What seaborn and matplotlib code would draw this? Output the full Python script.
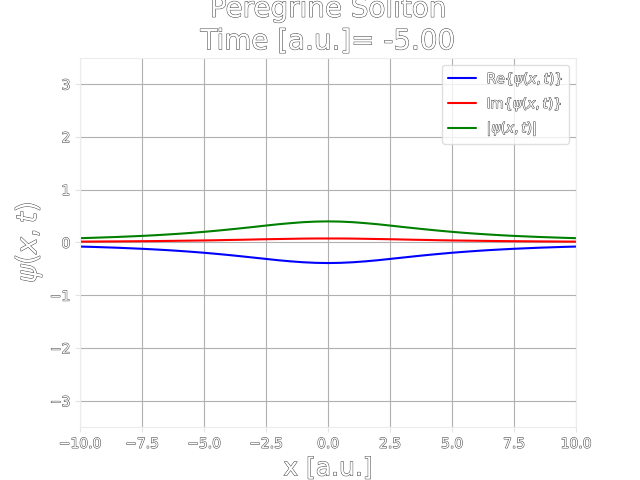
import numpy as np
import pandas as pd
import matplotlib
matplotlib.use("Agg")
import matplotlib.pyplot as plt
import matplotlib.patheffects as pe
import seaborn as sns

x_vals = [-10.0, -9.5, -9.0, -8.5, -8.0, -7.5, -7.0, -6.5, -6.0, -5.5, -5.0,
          -4.5, -4.0, -3.5, -3.0, -2.5, -2.0, -1.5, -1.0, -0.5, 0.0,
          0.5, 1.0, 1.5, 2.0, 2.5, 3.0, 3.5, 4.0, 4.5, 5.0,
          5.5, 6.0, 6.5, 7.0, 7.5, 8.0, 8.5, 9.0, 9.5, 10.0]
re_vals = [-0.079, -0.085, -0.093, -0.101, -0.111, -0.121, -0.133, -0.146, -0.161, -0.178, -0.196,
           -0.217, -0.239, -0.263, -0.288, -0.313, -0.338, -0.359, -0.376, -0.387, -0.391,
           -0.387, -0.376, -0.359, -0.338, -0.313, -0.288, -0.263, -0.239, -0.217, -0.196,
           -0.178, -0.161, -0.146, -0.133, -0.121, -0.111, -0.101, -0.093, -0.085, -0.079]
im_vals = [0.015, 0.016, 0.018, 0.019, 0.021, 0.023, 0.025, 0.028, 0.031, 0.034, 0.037,
           0.041, 0.046, 0.050, 0.055, 0.060, 0.064, 0.068, 0.072, 0.074, 0.074,
           0.074, 0.072, 0.068, 0.064, 0.060, 0.055, 0.050, 0.046, 0.041, 0.037,
           0.034, 0.031, 0.028, 0.025, 0.023, 0.021, 0.019, 0.018, 0.016, 0.015]
abs_vals = [0.080, 0.087, 0.095, 0.103, 0.113, 0.123, 0.135, 0.149, 0.164, 0.181, 0.200,
            0.221, 0.244, 0.268, 0.293, 0.319, 0.344, 0.365, 0.383, 0.394, 0.398,
            0.394, 0.383, 0.365, 0.344, 0.319, 0.293, 0.268, 0.244, 0.221, 0.200,
            0.181, 0.164, 0.149, 0.135, 0.123, 0.113, 0.103, 0.095, 0.087, 0.080]
series_labels = [r"Re$\{\psi(x, t)\}$", r"Im$\{\psi(x, t)\}$", r"$|\psi(x, t)|$"]
series_colors = ["blue", "red", "green"]
title_text = "Peregrine Soliton\nTime [a.u.]= -5.00"
xlabel_text = "x [a.u.]"
ylabel_text = r"$\psi(x, t)$"

sns.set_theme(style="whitegrid")
plt.rcParams["font.family"] = ["DejaVu Sans"]
plt.rcParams["grid.color"] = "#b0b0b0"
plt.rcParams["axes.edgecolor"] = "#ececec"

fig, ax = plt.subplots(figsize=(6.4, 4.8), dpi=100)
fig.subplots_adjust(left=0.125, right=0.9, bottom=0.11, top=0.88)

df = pd.DataFrame({"x": x_vals, "re": re_vals, "im": im_vals, "abs": abs_vals})
for col, lab, c in zip(["re", "im", "abs"], series_labels, series_colors):
    sns.lineplot(data=df, x="x", y=col, ax=ax, color=c, label=lab, linewidth=1.5)

ax.set_xlim(-10, 10)
ax.set_ylim(-3.5, 3.5)
ax.set_xticks(np.arange(-10, 10.1, 2.5))
ax.set_yticks([-3, -2, -1, 0, 1, 2, 3])
ax.grid(True, color="#b0b0b0", linewidth=0.8)
for s in ax.spines.values():
    s.set_color("#ececec")
    s.set_linewidth(0.8)

effects = [pe.withStroke(linewidth=0.7, foreground="#404040")]
ax.tick_params(axis="both", which="major", length=3.5, width=0.8, color="#e4e4e4",
               labelsize=10, labelcolor="white", bottom=True, left=True, pad=3.5)
for t in ax.get_xticklabels() + ax.get_yticklabels():
    t.set_path_effects(effects)

ax.set_title(title_text, fontsize=20, color="white", path_effects=effects)
ax.set_xlabel(xlabel_text, fontsize=18, color="white", path_effects=effects)
ax.set_ylabel(ylabel_text, fontsize=20, color="white", path_effects=effects)

leg = ax.legend(loc="upper right", fontsize=10, frameon=True)
leg.get_frame().set_edgecolor("#d8d8d8")
leg.get_frame().set_facecolor("white")
for t in leg.get_texts():
    t.set_color("white")
    t.set_path_effects(effects)

fig.savefig("out.png", dpi=100)
